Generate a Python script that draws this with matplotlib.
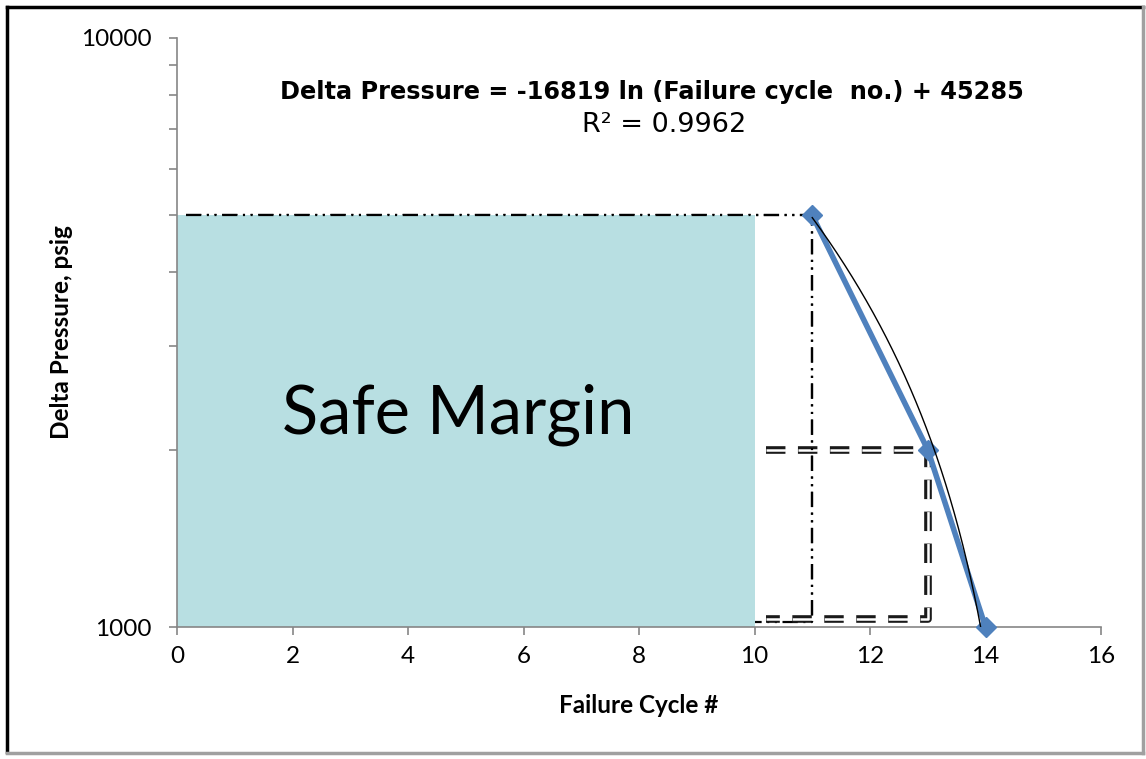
import numpy as np
import matplotlib.pyplot as plt
from matplotlib.lines import Line2D

plt.rcParams['lines.scale_dashes'] = False

# данные
cycles = [11, 13, 14]
pressure = [5000, 2000, 1000]

# линия тренда (из уравнения на графике)
trend_a = -16819
trend_b = 45285
trend_x = np.linspace(11, 14, 200)
trend_y = trend_a * np.log(trend_x) + trend_b

# зона "Safe Margin"
safe_x = [0, 10]
safe_y = [1000, 5000]

# вспомогательные линии
dd_x = [0.15, 11, 11, 0.15]
dd_y = [5000, 5000, 1020, 1020]
box_x = [10.2, 13, 13, 10.2]
box_y = [2000, 2000, 1032, 1032]

xticks = [0, 2, 4, 6, 8, 10, 12, 14, 16]

fig = plt.figure(figsize=(11.46, 7.59), dpi=100)
ax = fig.add_axes([177 / 1146, 132 / 759, 924 / 1146, 589 / 759])

ax.set_yscale('log')
ax.set_xlim(0, 16)
ax.set_ylim(1000, 10000)

# заливка безопасной зоны
ax.fill_between(safe_x, safe_y[0], safe_y[1], color='#B8DFE2', zorder=2, lw=0)
ax.text(4.87, 2290, 'Safe Margin', fontsize=48, family='Lato', ha='center', va='center', zorder=3)

# штрихпунктир
ax.plot(dd_x, dd_y, color='black', lw=1.6, dashes=(11, 4, 1.5, 4, 1.5, 4), zorder=1)
ax.plot(dd_x[:3], dd_y[:3], color='black', lw=1.6, dashes=(11, 4, 1.5, 4, 1.5, 4), zorder=5)

# двойная пунктирная линия
ax.plot(box_x, box_y, color='#1a1a1a', lw=5.5, dashes=(14, 9), zorder=4, solid_joinstyle='miter')
ax.plot(box_x, box_y, color='white', lw=1.8, dashes=(14, 9), zorder=4.1)

# серия данных и тренд
ax.plot(cycles, pressure, color='#4F81BD', lw=4, marker='D', markersize=10, zorder=6, clip_on=False)
ax.plot(trend_x, trend_y, color='black', lw=1, zorder=7)

# оси
ax.set_xticks(xticks)
ax.set_xticklabels([str(v) for v in xticks], fontsize=17.5, family='Lato')
ax.set_yticks([1000, 10000])
ax.set_yticklabels(['1000', '10000'], fontsize=17.5, family='Lato')
ax.yaxis.set_minor_locator(plt.LogLocator(base=10, subs=np.arange(2, 10)))
ax.yaxis.set_minor_formatter(plt.NullFormatter())
ax.tick_params(axis='both', which='both', color='#868686', length=6, width=1.2, direction='out')
ax.tick_params(axis='y', pad=12)
ax.tick_params(axis='x', pad=8)
for s in ['top', 'right']:
    ax.spines[s].set_visible(False)
for s in ['left', 'bottom']:
    ax.spines[s].set_color('#868686')
    ax.spines[s].set_linewidth(1.2)

ax.set_xlabel('Failure Cycle #', fontsize=17.5, family='Lato', fontweight='bold', labelpad=19)
ax.set_ylabel('Delta Pressure, psig', fontsize=17.5, family='Lato', fontweight='bold', labelpad=6)

# уравнение
fig.text(652 / 1146, 1 - 92 / 759, 'Delta Pressure = -16819 ln (Failure cycle  no.) + 45285',
         fontsize=17.3, fontweight='bold', ha='center', va='center')
fig.text(664 / 1146, 1 - 125 / 759, 'R² = 0.9962', fontsize=19.5, family='DejaVu Sans', ha='center', va='center')

# рамка
W, H = 1146, 759
fig.add_artist(Line2D([7 / W, 7 / W], [1 - 7 / H, 1 - 752 / H], color='black', lw=2.5, transform=fig.transFigure))
fig.add_artist(Line2D([7 / W, 1143 / W], [1 - 7 / H, 1 - 7 / H], color='black', lw=2.5, transform=fig.transFigure))
fig.add_artist(Line2D([1143 / W, 1143 / W], [1 - 7 / H, 1 - 753 / H], color='#A0A0A0', lw=2.5, transform=fig.transFigure))
fig.add_artist(Line2D([7 / W, 1143 / W], [1 - 753 / H, 1 - 753 / H], color='#A0A0A0', lw=2.5, transform=fig.transFigure))

plt.savefig('out.png', dpi=100)
